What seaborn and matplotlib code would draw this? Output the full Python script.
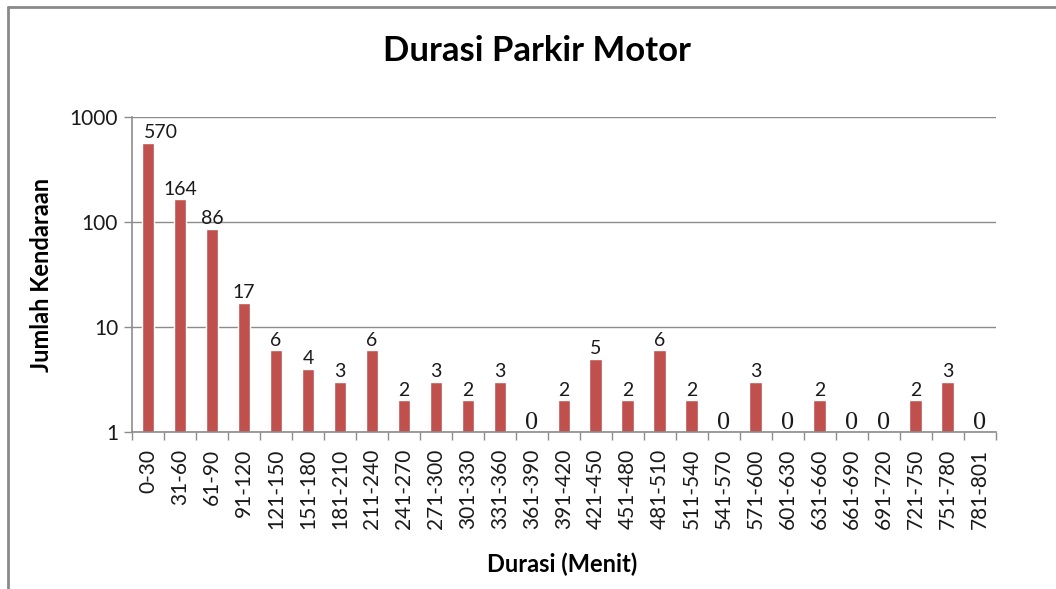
import matplotlib
matplotlib.use("Agg")
import matplotlib.pyplot as plt
from matplotlib.lines import Line2D
from matplotlib.ticker import FixedLocator, NullLocator
from matplotlib.font_manager import FontProperties
import seaborn as sns
import pandas as pd
import numpy as np

categories = ["0-30", "31-60", "61-90", "91-120", "121-150", "151-180", "181-210",
              "211-240", "241-270", "271-300", "301-330", "331-360", "361-390",
              "391-420", "421-450", "451-480", "481-510", "511-540", "541-570",
              "571-600", "601-630", "631-660", "661-690", "691-720", "721-750",
              "751-780", "781-801"]
counts = [570, 164, 86, 17, 6, 4, 3, 6, 2, 3, 2, 3, 0, 2, 5, 2, 6, 2, 0, 3, 0, 2, 0, 0, 2, 3, 0]
y_ticks = [1, 10, 100, 1000]

sns.set_theme(style="white")
plt.rcParams["font.family"] = ["Lato", "DejaVu Sans"]

df = pd.DataFrame({"Durasi": categories, "Jumlah": counts})
plot_df = df.copy()
plot_df["Jumlah"] = plot_df["Jumlah"].replace(0, np.nan)

fig = plt.figure(figsize=(10.56, 5.89), dpi=100)
ax = fig.add_axes([0.125, 0.2666, 0.818, 0.5349])

sns.barplot(data=plot_df, x="Durasi", y="Jumlah", order=categories, color="#C0504D",
            saturation=1, width=0.4, ax=ax, errorbar=None)
ax.set_yscale("log")
ax.set_ylim(1, 1000)
ax.set_xlim(-0.5, len(categories) - 0.5)
ax.yaxis.set_major_locator(FixedLocator(y_ticks))
ax.yaxis.set_minor_locator(NullLocator())
ax.set_yticklabels([str(t) for t in y_ticks])
ax.grid(axis="y", color="#8c8c8c", linewidth=1)
ax.set_axisbelow(True)

ax.xaxis.set_major_locator(FixedLocator(range(len(categories))))
ax.set_xticklabels(categories, rotation=90, fontsize=15, color="#1a1a1a")
ax.xaxis.set_minor_locator(FixedLocator(np.arange(-0.5, len(categories), 1.0)))
ax.tick_params(axis="x", which="major", length=0, pad=12)
ax.tick_params(axis="x", which="minor", length=6, color="#8c8c8c", width=1, direction="out", bottom=True)
ax.tick_params(axis="y", which="major", length=6, color="#8c8c8c", width=1, direction="out",
               left=True, labelsize=15, labelcolor="#1a1a1a", pad=4)

for s in ["top", "right"]:
    ax.spines[s].set_visible(False)
for s in ["left", "bottom"]:
    ax.spines[s].set_color("#8c8c8c")
    ax.spines[s].set_linewidth(1.2)

serif_fp = FontProperties(family="Liberation Serif", size=19)
for i, v in enumerate(counts):
    if v > 0:
        dx = 9.5 if i == 0 else 0
        ax.annotate(str(v), (i, v), xytext=(dx, 1), textcoords="offset points",
                    ha="center", va="bottom", fontsize=14, color="#1a1a1a")
    else:
        ax.annotate("0", (i, 1), xytext=(0, -1.5), textcoords="offset points",
                    ha="center", va="bottom", color="#1a1a1a", fontproperties=serif_fp)

ax.set_xlabel("Durasi (Menit)", fontsize=17, fontweight="bold", color="black")
ax.xaxis.set_label_coords(0.498, -0.384)
ax.set_ylabel("Jumlah Kendaraan", fontsize=17, fontweight="bold", color="black")
ax.yaxis.set_label_coords(-0.091, 0.5)

fig.text(0.508, 0.913, "Durasi Parkir Motor", ha="center", va="center",
         fontsize=25, fontweight="bold", color="black")

fig.add_artist(Line2D([8 / 1056, 8 / 1056], [0, 1 - 7 / 589], transform=fig.transFigure,
                      color="#8a8a8a", linewidth=2))
fig.add_artist(Line2D([8 / 1056, 1], [1 - 7 / 589, 1 - 7 / 589], transform=fig.transFigure,
                      color="#8a8a8a", linewidth=2))

fig.savefig("out.png", dpi=100, facecolor="white")
